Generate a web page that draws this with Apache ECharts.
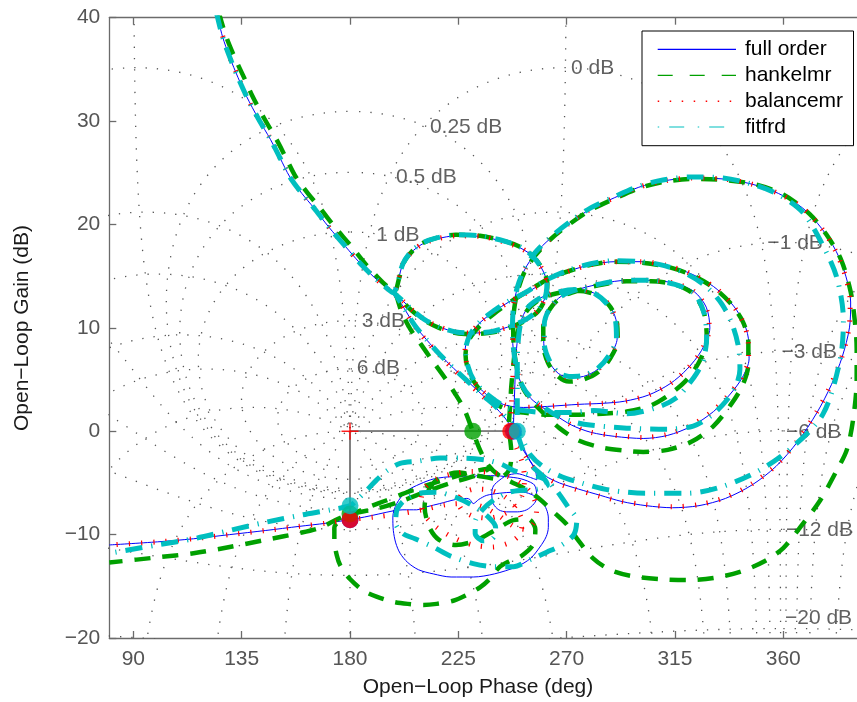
<!DOCTYPE html>
<html><head><meta charset="utf-8">
<script src="https://cdn.jsdelivr.net/npm/echarts@6/dist/echarts.min.js"></script>
<style>html,body{margin:0;padding:0;background:#fff}#c{width:857px;height:702px}</style>
</head><body><div id="c"></div><script>
// ---------- axis settings ----------
const X_MIN = 80, X_MAX = 393;
const X_TICKS = [90, 135, 180, 225, 270, 315, 360];
const Y_MIN = -20, Y_MAX = 40, Y_STEP = 10;

// ---------- curves: [open-loop phase (deg), open-loop gain (dB)] ----------
const fullOrder = [
 [124.6,40.5],[127,38.2],[130,36.2],[133.5,34.2],[137,32.4],[142,30.2],[147,28.2],[151,26.4],[155,24.6],[160,23.0],[165,21.6],[171,19.8],[178,17.9],[184,16.3],[190,14.9],[194.5,14.0],[198,13.4],
 [200,14.6],[202,16.2],[205.5,17.3],[210,18.1],[216,18.6],[224,18.9],[234,18.85],[244,18.3],[251,17.7],[256,16.9],[260,15.6],[261.8,14.3],[261,12.9],[258,11.7],[253,10.8],[247,10.2],[240,9.7],[232,9.5],[224,9.6],[217,10.1],[211,10.8],[206,11.7],[202,12.6],[199,13.2],
 [203,11.7],[207,10.2],[212,8.8],[217,7.5],[223,6.1],[229,4.8],[235,3.5],[240,2.4],[244,1.4],[247.9,0.1],
 [250.6,-0.8],[253.5,-2.3],[256.5,-3.4],[261,-4.3],[267,-5.0],[275,-5.6],[284,-6.2],[293,-6.8],[303,-7.2],[314,-7.4],[325,-7.2],[336,-6.5],[347,-5.2],[357,-3.4],[366,-1.0],[374,1.8],[380,4.5],[384.5,7.2],[387.5,10.0],[388,12.5],[386,15.0],[382,17.4],[376,19.6],[368,21.6],[358,23.0],[347,23.9],[335,24.4],[322,24.5],[310,24.2],[300,23.6],[290,22.6],[280,21.5],[271,20.1],[263,18.6],[257,17.2],[252.5,15.6],[249.5,13.8],[247.8,12.0],[247.4,10.0],[247.8,8.0],[249.2,6.0],[251.5,4.4],[255,3.2],[260,2.3],[265,1.6],
 [272,0.6],[280,-0.1],[290,-0.5],[301.8,-0.7],[312,-0.4],[322,0.5],[331,1.9],[338,3.6],[343,5.2],[345.8,7.0],[345.5,9.0],[343,10.8],[338,12.5],[331,14.0],[322,15.2],[312,16.0],[301,16.4],[290,16.4],[280,16.1],[271,15.5],[263,14.7],[257,13.9],[252,13.2],
 [246,12.5],[240,11.6],[234,10.5],[229.5,9.2],[227.8,7.8],[228.7,6.3],[231,5.0],[235,3.9],[240,3.0],[245,2.5],
 [252,2.3],[262,2.4],[275,2.6],[285,2.7],[294,2.9],[304,3.5],[313,4.6],[320,6.0],[326,7.8],[329.5,10.0],[328,12.0],[323,13.5],[315,14.3],[305,14.6],[295,14.6],[285,14.3],[276,13.8],
 [268,13.1],[263,11.9],[260.5,10.3],[260.5,8.5],[262.5,6.8],[266.5,5.6],[271,5.2],[277,5.3],[283,6.0],[288,7.3],[291,9.0],[290.5,10.8],[287,12.4],[281,13.4],[274,13.7],[267,13.5],[260,13.0],
 [254,12.0],[250.8,10.5],[249.4,8.5],[248.8,6.5],[248.5,4.5],[248.2,2.5],[247.9,0.2],
 [250.5,-1.2],[254,-2.6],[257,-3.8],[257.6,-4.7],[254,-4.4],[249.3,-4.1],[245,-4.3],[242.3,-4.7],[239.6,-5.3],[238.9,-6.0],[239.5,-7.0],[241.8,-7.6],[245.1,-7.8],[249.5,-7.8],[253.4,-7.6],[256.5,-7.0],[257.6,-6.4],[257.3,-5.6],[256.2,-5.1],[251,-4.6],[245.1,-4.4],[240,-4.3],[236.8,-4.3],[234,-4.2],[231.2,-4.4],[227,-4.4],[222.9,-4.4],[215,-4.6],[209.1,-5.1],[203.5,-5.8],[199.4,-7.0],[197.8,-8.3],[198,-9.6],[199,-10.8],[200.8,-11.8],[204,-12.7],[208.5,-13.4],[214.6,-13.8],[222,-14.1],[231.2,-14.1],[240,-13.8],[249.3,-13.1],[255,-12.3],[258.9,-11.2],[261.5,-10.2],[262.4,-9.3],[262.4,-8.4],[261.7,-7.6],[259.5,-6.7],[256.2,-6.2],[252,-5.9],[247.9,-5.9],[242,-6.0],[236.8,-6.2],[233.5,-6.6],[231.2,-7.0],[229.8,-6.6],[228.5,-6.5],[224,-6.6],[217.3,-7.0],[212,-7.3],[207.7,-7.6],[202,-7.6],[198,-7.7],[192,-8.0],[186,-8.3],[180,-8.55],[170,-8.9],[159,-9.2],[145,-9.6],[130,-10.0],[115,-10.4],[100,-10.7],[80,-11.0]
];

const hankelmr = [
 [125.5,40.5],[128.5,38.2],[132,36.2],[136,34.2],[139.5,32.4],[144.5,30.2],[149.5,28.2],[153.5,26.4],[157.5,24.6],[162.5,23.0],[167.5,21.6],[173.5,19.8],[180.5,17.9],[186,16.3],[191.5,14.9],[195.5,14.0],[198.5,13.5],
 [200.3,14.7],[202.3,16.3],[205.8,17.4],[210.2,18.2],[216,18.7],[224,19.0],[234,18.9],[244,18.4],[251,17.8],[256.2,16.9],[260.2,15.6],[262,14.3],[261.2,12.9],[258.2,11.6],[253,10.7],[247,10.1],[240,9.6],[232,9.4],[224,9.5],[217,10.0],[211,10.7],[206,11.6],[202,12.5],[199.2,13.2],
 [201.5,11.5],[205,9.9],[209.5,8.4],[214,6.9],[219,5.3],[223.5,3.7],[227.5,2.1],[231,0],
 [234,-1.8],[237.5,-3.3],[242,-4.3],[247,-4.9],[253,-5.6],[259,-6.6],[265,-7.9],[270,-9.0],[275,-10.6],[281,-12.3],[288,-13.4],[297,-14.0],[308.7,-14.3],[320,-14.4],[331,-14.2],[342,-13.6],[352,-12.6],[360,-11.3],[367,-9.3],[375.3,-6.7],[382.2,-3.8],[386.4,-1.8],[389,1.1],[390.5,5.0],[390.5,8.0],[389.8,10.5],[388,13.5],[384,16.6],[378,19.0],[371,21.0],[360,22.9],[348,23.9],[335,24.3],[322,24.4],[310,24.1],[300,23.5],[290,22.5],[280,21.4],[271,20.0],[263,18.5],[257,17.0],[252.5,15.4],[249.7,13.6],[248.2,11.8],[247.8,9.8],[248.2,7.8],[249.6,5.8],[252,4.1],[256,2.8],[261,1.6],[267,0.3],
 [275,-0.9],[285,-1.6],[295,-1.9],[301.8,-2.0],[312,-1.8],[322,-1.0],[331,0.5],[338,2.5],[343,4.4],[345.5,6.5],[345.5,8.6],[343.2,10.6],[338,12.4],[331,13.9],[322,15.1],[312,15.9],[301,16.3],[290,16.4],[280,16.1],[271,15.5],[263,14.8],[257,14.0],[252,13.3],
 [246,12.4],[240,11.4],[234,10.2],[229.6,8.9],[228,7.4],[229,6.0],[231.5,4.8],[235.5,3.6],[240.5,2.7],[245,2.1],
 [252,1.8],[262,1.6],[275,1.6],[285,1.7],[295,1.9],[305,2.5],[313,3.6],[320,5.0],[325.5,6.9],[328.2,9.0],[327,11.5],[322.5,13.3],[315,14.2],[305,14.5],[295,14.5],[285,14.2],[276,13.7],
 [268,13.0],[263,11.8],[260.3,10.2],[260.3,8.4],[262.3,6.6],[266.5,5.3],[271,4.8],[277,5.0],[283,5.7],[288,7.0],[291.2,8.8],[290.8,10.7],[287.2,12.3],[281,13.3],[274,13.6],[267,13.4],[260,12.9],
 [254,11.8],[250.5,10.3],[248.8,8.3],[247.8,6.3],[247,4.3],[246.5,2.3],[246,0.5],
 [247,-2.0],[246,-3.8],[241,-4.6],[233,-4.3],[225,-4.0],[218,-4.4],[213,-5.5],[211,-7.3],[213,-9.3],[217,-10.5],[224,-11.0],[232,-10.6],[240,-9.6],[248,-8.6],[254,-8.5],[257,-9.5],[256,-11.0],[251,-12.1],[246,-12.6],[242.3,-13.1],[238,-14.3],[234,-15.1],[228,-15.9],[222.9,-16.4],[216,-16.7],[210.5,-16.8],[204,-16.7],[198,-16.5],[191,-16.0],[185.5,-15.4],[180,-14.3],[176,-13.0],[174.5,-12.0],[173.5,-10.5],[173.5,-9.3],[178,-8.4],[186,-7.5],[195,-6.7],[205,-5.8],[215,-5.0],[225,-4.3],[233,-3.8],[238,-3.6],
 [232,-4.3],[222,-5.0],[212,-5.8],[202,-6.7],[191,-7.5],[180,-8.0],[174,-8.6],[168,-9.3],[160,-9.8],[145,-10.5],[130,-11.2],[115,-11.8],[100,-12.2],[80,-12.7]
];

const balancemr = [
 [124.6,40.5],[127,38.3],[130,36.2],[133.5,34.3],[137,32.4],[142,30.2],[147,28.3],[151,26.4],[155,24.7],[160,23.0],[165,21.6],[171,19.8],[178,17.9],[184,16.3],[190,14.9],[194.5,14.0],[198,13.4],
 [200,14.6],[202,16.2],[205.5,17.3],[210,18.1],[216,18.6],[224,18.9],[234,18.85],[244,18.3],[251,17.7],[256,16.9],[260,15.6],[261.8,14.3],[261,12.9],[258,11.7],[253,10.8],[247,10.2],[240,9.7],[232,9.5],[224,9.6],[217,10.1],[211,10.8],[206,11.7],[202,12.6],[199,13.2],
 [203,11.6],[207,10.1],[212,8.7],[217,7.4],[223,6.0],[229,4.7],[235,3.4],[240,2.3],[243.5,1.3],[246.8,0.0],
 [249.8,-0.9],[253,-2.4],[256.3,-3.5],[261,-4.4],[267,-5.1],[275,-5.7],[284,-6.3],[293,-6.8],[303,-7.1],[314,-7.3],[325,-7.1],[336,-6.4],[347,-5.1],[357,-3.3],[366,-0.9],[374,1.9],[380,4.6],[384.5,7.3],[387.3,10.0],[387.8,12.5],[385.8,15.0],[381.8,17.4],[376,19.6],[368,21.6],[358,23.0],[347,23.9],[335,24.4],[322,24.5],[310,24.2],[300,23.6],[290,22.6],[280,21.5],[271,20.1],[263,18.6],[257,17.2],[252.5,15.6],[249.5,13.8],[247.8,12.0],[247.4,10.0],[247.8,8.0],[249.2,6.0],[251.5,4.4],[255,3.2],[260,2.3],[265,1.6],
 [272,0.6],[280,-0.1],[290,-0.4],[301.8,-0.6],[312,-0.3],[322,0.6],[331,2.0],[338,3.7],[343,5.3],[345.6,7.0],[345.3,9.0],[342.8,10.8],[338,12.5],[331,14.0],[322,15.2],[312,16.0],[301,16.4],[290,16.4],[280,16.1],[271,15.5],[263,14.7],[257,13.9],[252,13.2],
 [246,12.5],[240,11.6],[234,10.5],[229.5,9.2],[227.8,7.8],[228.7,6.3],[231,5.0],[235,3.9],[240,3.0],[245,2.5],
 [252,2.3],[262,2.4],[275,2.6],[285,2.7],[294,2.9],[304,3.5],[313,4.6],[320,6.0],[326,7.8],[329.3,10.0],[327.8,12.0],[323,13.5],[315,14.3],[305,14.6],[295,14.6],[285,14.3],[276,13.8],
 [268,13.1],[263,11.9],[260.5,10.3],[260.5,8.5],[262.5,6.8],[266.5,5.6],[271,5.2],[277,5.3],[283,6.0],[288,7.3],[291,9.0],[290.5,10.8],[287,12.4],[281,13.4],[274,13.7],[267,13.5],[260,13.0],
 [254,12.0],[250.6,10.5],[249,8.5],[248,6.5],[247.5,4.5],[247.1,2.5],[246.8,0.2],
 [249,-1.5],[251.5,-3.0],[252.5,-4.6],[251.5,-6.2],[248,-7.4],[243,-8.1],[237,-8.4],[231,-8.2],[226.5,-7.6],[225,-6.8],[227,-6.0],[232,-5.6],[238,-5.7],[244,-6.3],[249,-7.4],[251.5,-8.8],[250.5,-10.0],[246,-10.8],[239,-11.2],[231,-11.0],[223,-10.3],[216,-9.3],[211,-8.1],[209.5,-6.8],[211,-5.5],[216,-4.6],[223,-4.1],[231,-3.9],[239,-4.0],[246,-4.4],[252,-5.2],[256,-6.3],[257.5,-7.6],[256.5,-8.8],[253,-9.5],[248,-9.2],[242,-8.2],[236,-7.4],[229,-7.0],[220,-7.1],[210,-7.6],[200,-8.0],[190,-8.3],[180,-8.55],[170,-8.9],[159,-9.2],[145,-9.6],[130,-10.0],[115,-10.4],[100,-10.7],[80,-11.0]
];

const fitfrd = [
 [124.5,40.5],[127,38.2],[130,36.2],[133.5,34.2],[137,32.4],[142,30.2],[147,28.2],[151,26.4],[155,24.6],[160,23.0],[165,21.6],[171,19.8],[178,17.9],[184,16.3],[190,14.9],[194.5,14.0],[198,13.4],
 [200,14.6],[202,16.2],[205.5,17.4],[210,18.2],[216,18.7],[224,19.0],[234,18.9],[244,18.4],[251,17.8],[256,16.9],[260,15.6],[261.8,14.3],[261,12.9],[258,11.7],[253,10.8],[247,10.2],[240,9.7],[232,9.5],[224,9.6],[217,10.1],[211,10.8],[206,11.7],[202,12.6],[199,13.2],
 [203,11.7],[207,10.2],[212,8.8],[217,7.5],[223,6.1],[229,4.8],[235,3.5],[240.5,2.4],[245,1.3],[249.5,0.0],
 [252,-1.0],[255,-2.3],[260,-3.4],[267,-4.3],[276,-5.0],[288,-5.7],[303,-6.0],[320,-6.0],[334,-5.4],[350,-3.8],[364,-1.5],[376.6,1.7],[383.6,6.9],[385,10.7],[382.2,14.9],[375.3,18.5],[368,21.2],[358,22.9],[347,23.9],[335,24.5],[322,24.6],[310,24.3],[300,23.7],[290,22.7],[280,21.6],[271,20.2],[263,18.7],[257,17.3],[252.5,15.7],[249.5,13.9],[247.9,12.0],[247.5,10.0],[247.9,8.0],[249.3,6.0],[251.6,4.4],[255,3.3],[260,2.4],[266,1.5],
 [273,0.9],[279.7,0.6],[295,0.3],[311.6,0.2],[322.6,0.5],[330,1.5],[336.5,3.0],[340.5,4.5],[342,6.0],[341.5,8.0],[339,10.2],[334.5,12.3],[328,14.0],[320,15.2],[311,16.0],[301,16.4],[290,16.5],[280,16.2],[271,15.6],[263,14.8],[257,14.0],[252,13.3],
 [246,12.6],[240,11.7],[234,10.6],[229.8,9.3],[228,7.8],[229,6.3],[231.3,5.0],[235.3,3.9],[240.3,3.0],[245,2.3],
 [252,2.0],[262,1.8],[272,1.8],[281.1,2.0],[295,1.7],[308.8,2.4],[316,3.3],[319.9,4.3],[324,5.6],[326.8,6.9],[328.2,9.1],[327,11.5],[323,13.3],[315,14.2],[305,14.6],[295,14.6],[285,14.3],[276,13.8],
 [268,13.1],[263,11.9],[260.7,10.3],[260.7,8.5],[262.7,6.9],[266.5,5.7],[271,5.3],[277,5.4],[283,6.1],[287.8,7.4],[290.7,9.0],[290.2,10.8],[286.8,12.3],[281,13.4],[274,13.7],[267,13.5],[260,13.0],
 [254,12.0],[251,10.5],[249.8,8.5],[249.5,6.5],[249.5,4.5],[249.5,2.5],[249.5,0.2],
 [251.5,-1.6],[255,-3.2],[261,-4.5],[266,-5.8],[270.5,-7.3],[274.2,-8.6],[273,-10.0],[268,-11.0],[261.7,-11.7],[255,-12.4],[247.9,-13.1],[240,-13.1],[231.2,-12.8],[222,-12.1],[214.6,-11.2],[207,-10.4],[202.1,-9.9],[199,-8.9],[199.5,-7.6],[203,-6.6],[209,-6.0],[216,-5.9],[224,-6.4],[231,-7.2],[237,-8.2],[240.5,-9.3],[239.5,-10.3],[235.5,-10.6],[232,-9.9],[232,-8.8],[235,-7.6],[240,-6.6],[246,-5.9],[252,-5.7],[258,-5.6],[262,-5.2],[260.5,-4.6],[254,-4.2],[247.9,-3.8],[243,-3.2],[236.8,-2.8],[227,-2.6],[217.4,-2.6],[208,-2.9],[200.8,-3.1],[195.5,-3.8],[191.1,-4.7],[187,-5.7],[183.5,-6.5],[180,-7.2],[172,-7.6],[160,-8.1],[145,-8.8],[130,-9.6],[115,-10.4],[100,-11.0],[80,-11.8]
];

// ---------- stability margin markers ----------
const seriesNames = ['full order', 'hankelmr', 'balancemr', 'fitfrd'];
const seriesColors = ['#0000ff', '#00a000', '#ff0000', '#00bfbf'];
const gmGain = [-8.55, -8.0, -8.55, -7.2];      // gain at phase 180 deg
const pmPhase = [247.9, 231.0, 246.8, 249.5];   // phase at 0 dB
const critical = [180, 0];

// ---------- Nichols grid ----------
const GRID_GAINS_DB = [6, 3, 1, 0.5, 0.25, 0, -1, -3, -6, -12, -20];
const GRID_PHASES_DEG = [1, 5, 10, 20, 30, 50, 90, 120, 150, 180, 210, 240, 270, 310, 330, 340, 350, 355, 359];
const GRID_SHIFTS = [0, 360];
const gridLabelText = ['0 dB', '0.25 dB', '0.5 dB', '1 dB', '3 dB', '6 dB', '\u22121 dB', '\u22123 dB', '\u22126 dB', '\u221212 dB', '\u221220 dB'];
const gridLabelPhase = [271.8, 213.2, 199.1, 190.9, 184.9, 182.8, 353.4, 359.3, 361.1, 361.1, 360.7];
const gridLabelGain = [35.1, 29.4, 24.6, 19.0, 10.65, 6.07, 18.2, 7.6, -0.07, -9.6, -18.05];

const FONT = '"Liberation Sans", Arial, Helvetica, sans-serif';

function toNichols(tr, ti) {
  const den = (1 - tr) * (1 - tr) + ti * ti;
  const gr = (tr - (tr * tr + ti * ti)) / den;
  const gi = ti / den;
  let a = Math.atan2(gi, gr) * 180 / Math.PI;
  if (a < 0) a += 360;
  return [a, 20 * Math.log10(Math.hypot(gr, gi))];
}
const gridPaths = [];
GRID_GAINS_DB.forEach(db => {
  const m = Math.pow(10, db / 20);
  const N = 1200, pts = [];
  for (let k = 0; k <= N; k++) {
    const u = k / N;
    const psi = (-359.97 + 359.94 * (0.5 - 0.5 * Math.cos(Math.PI * u))) * Math.PI / 180;
    pts.push(toNichols(m * Math.cos(psi), m * Math.sin(psi)));
  }
  gridPaths.push(pts);
});
GRID_PHASES_DEG.forEach(p => {
  const psi = -p * Math.PI / 180;
  const N = 1200, pts = [];
  for (let k = 0; k <= N; k++) {
    const s = -1 + 2 * k / N;
    const m = Math.pow(10, 3 * s * Math.abs(s));
    pts.push(toNichols(m * Math.cos(psi), m * Math.sin(psi)));
  }
  gridPaths.push(pts);
});

const gridSeries = [];
gridPaths.forEach(pts => {
  GRID_SHIFTS.forEach(sh => {
    const d = pts.map(q => [q[0] + sh, q[1]]);
    if (!d.some(q => q[0] >= X_MIN - 5 && q[0] <= X_MAX + 5 && q[1] > Y_MIN - 5 && q[1] < Y_MAX + 5)) return;
    gridSeries.push({
      type: 'line', data: d, showSymbol: false, symbol: 'none', silent: true, clip: true, z: 1,
      lineStyle: { color: '#555', width: 1.3, type: [1.3, 10] }
    });
  });
});

const curveData = [fullOrder, hankelmr, balancemr, fitfrd];
const curveStyles = [
  { color: '#0000ff', width: 1, type: 'solid' },
  { color: '#00a000', width: 4.5, type: [16, 12] },
  { color: '#ff0000', width: 5, type: [1.2, 11] },
  { color: '#00bfbf', width: 5, type: [17, 9, 1.2, 9] }
];
const curveSeries = curveData.map((d, i) => ({
  type: 'line', name: seriesNames[i], data: d, showSymbol: false, symbol: 'none', smooth: 0.3,
  silent: true, clip: true, z: 3 + i,
  lineStyle: Object.assign({ cap: 'butt', join: 'round' }, curveStyles[i])
}));

const marginLineSeries = [];
for (let i = 0; i < 4; i++) {
  marginLineSeries.push({ type: 'line', data: [critical, [pmPhase[i], 0]], showSymbol: false, symbol: 'none', silent: true, z: 8,
    lineStyle: { color: '#808080', width: 1.5 } });
  marginLineSeries.push({ type: 'line', data: [critical, [180, gmGain[i]]], showSymbol: false, symbol: 'none', silent: true, z: 8,
    lineStyle: { color: '#808080', width: 1.5 } });
}
const markerSeries = [0, 1, 2, 3].map(i => ({
  type: 'scatter', data: [[pmPhase[i], 0], [180, gmGain[i]]], symbol: 'circle', symbolSize: 17, silent: true, z: 10 + i,
  itemStyle: { color: seriesColors[i], borderWidth: 0 }
}));
const critSeries = {
  type: 'custom', data: [critical], silent: true, z: 20,
  renderItem: (params, api) => {
    const p = api.coord([api.value(0), api.value(1)]);
    const s = 8.5;
    return { type: 'group', children: [
      { type: 'line', shape: { x1: p[0] - s, y1: p[1], x2: p[0] + s, y2: p[1] }, style: { stroke: '#ff0000', lineWidth: 1.3 } },
      { type: 'line', shape: { x1: p[0], y1: p[1] - s, x2: p[0], y2: p[1] + s }, style: { stroke: '#ff0000', lineWidth: 1.3 } }
    ] };
  }
};
const gridLabelSeries = {
  type: 'scatter', silent: true, z: 2, symbolSize: 0,
  data: gridLabelText.map((t, i) => ({ value: [gridLabelPhase[i], gridLabelGain[i]], name: t })),
  label: { show: true, position: 'right', distance: 0, formatter: p => p.name, fontSize: 21, fontFamily: FONT, color: '#3a3a3a' }
};

// ---------- legend (drawn as graphics, MATLAB style) ----------
const LEG = { x0: 642, y0: 31, x1: 853.5, y1: 145.7, rows: [49.3, 75.3, 101.3, 127], lx0: 657.7, lx1: 736, tx: 745 };
const legendDash = ['solid', [15, 17], [1.5, 10.5], [1.5, 10, 15, 13.5]];
const graphics = [
  { type: 'rect', shape: { x: LEG.x0, y: LEG.y0, width: LEG.x1 - LEG.x0, height: LEG.y1 - LEG.y0 }, style: { fill: '#fff', stroke: '#000', lineWidth: 1 }, z: 100 }
];
seriesNames.forEach((n, i) => {
  const ld = legendDash[i];
  graphics.push({ type: 'line', shape: { x1: LEG.lx0, y1: LEG.rows[i], x2: LEG.lx1, y2: LEG.rows[i] },
    style: { stroke: seriesColors[i], lineWidth: i === 2 ? 1.5 : 1.2, lineDash: ld === 'solid' ? null : ld }, z: 101 });
  graphics.push({ type: 'text', x: LEG.tx, y: LEG.rows[i], style: { text: n, fontSize: 21, fontFamily: FONT, fill: '#000', verticalAlign: 'middle', align: 'left' }, z: 101 });
});
graphics.push({ type: 'text', x: 478, y: 687, style: { text: 'Open\u2212Loop Phase (deg)', fontSize: 21, fontFamily: FONT, fill: '#1a1a1a', align: 'center', verticalAlign: 'middle' } });
graphics.push({ type: 'text', x: 22, y: 328, rotation: Math.PI / 2, style: { text: 'Open\u2212Loop Gain (dB)', fontSize: 21, fontFamily: FONT, fill: '#1a1a1a', align: 'center', verticalAlign: 'middle' } });

const axisColor = '#6b6b6b';
const chart = echarts.init(document.getElementById('c'), null, { renderer: 'canvas' });
const PX_PER_DEG = 2.407;
const gridLeft = 109.3, gridTop = 17.7, gridBottomPx = 638;
const gridWidth = (X_MAX - X_MIN) * PX_PER_DEG;
chart.setOption({
  animation: false,
  backgroundColor: '#fff',
  grid: { left: gridLeft, top: gridTop, width: gridWidth, height: gridBottomPx - gridTop, containLabel: false, outerBoundsMode: 'none' },
  xAxis: [
    { type: 'value', min: X_MIN, max: X_MAX, position: 'bottom',
      axisLine: { show: true, onZero: false, lineStyle: { color: axisColor, width: 1.3 } },
      axisTick: { show: true, inside: true, length: 7, customValues: X_TICKS, lineStyle: { color: axisColor, width: 1.3 } },
      axisLabel: { customValues: X_TICKS, fontSize: 21, fontFamily: FONT, color: '#555', margin: 11 },
      splitLine: { show: false } },
    { type: 'value', min: X_MIN, max: X_MAX, position: 'top',
      axisLine: { show: true, onZero: false, lineStyle: { color: axisColor, width: 1.3 } },
      axisTick: { show: true, inside: true, length: 7, customValues: X_TICKS, lineStyle: { color: axisColor, width: 1.3 } },
      axisLabel: { show: false }, splitLine: { show: false } }
  ],
  yAxis: [
    { type: 'value', min: Y_MIN, max: Y_MAX, interval: Y_STEP, position: 'left',
      axisLine: { show: true, onZero: false, lineStyle: { color: axisColor, width: 1.3 } },
      axisTick: { show: true, inside: true, length: 7, lineStyle: { color: axisColor, width: 1.3 } },
      axisLabel: { fontSize: 21, fontFamily: FONT, color: '#555', margin: 9, formatter: v => String(v).replace('-', '\u2212') },
      splitLine: { show: false } }
  ],
  graphic: graphics,
  series: [].concat(gridSeries, [gridLabelSeries], curveSeries, marginLineSeries, markerSeries, [critSeries])
});
</script></body></html>
